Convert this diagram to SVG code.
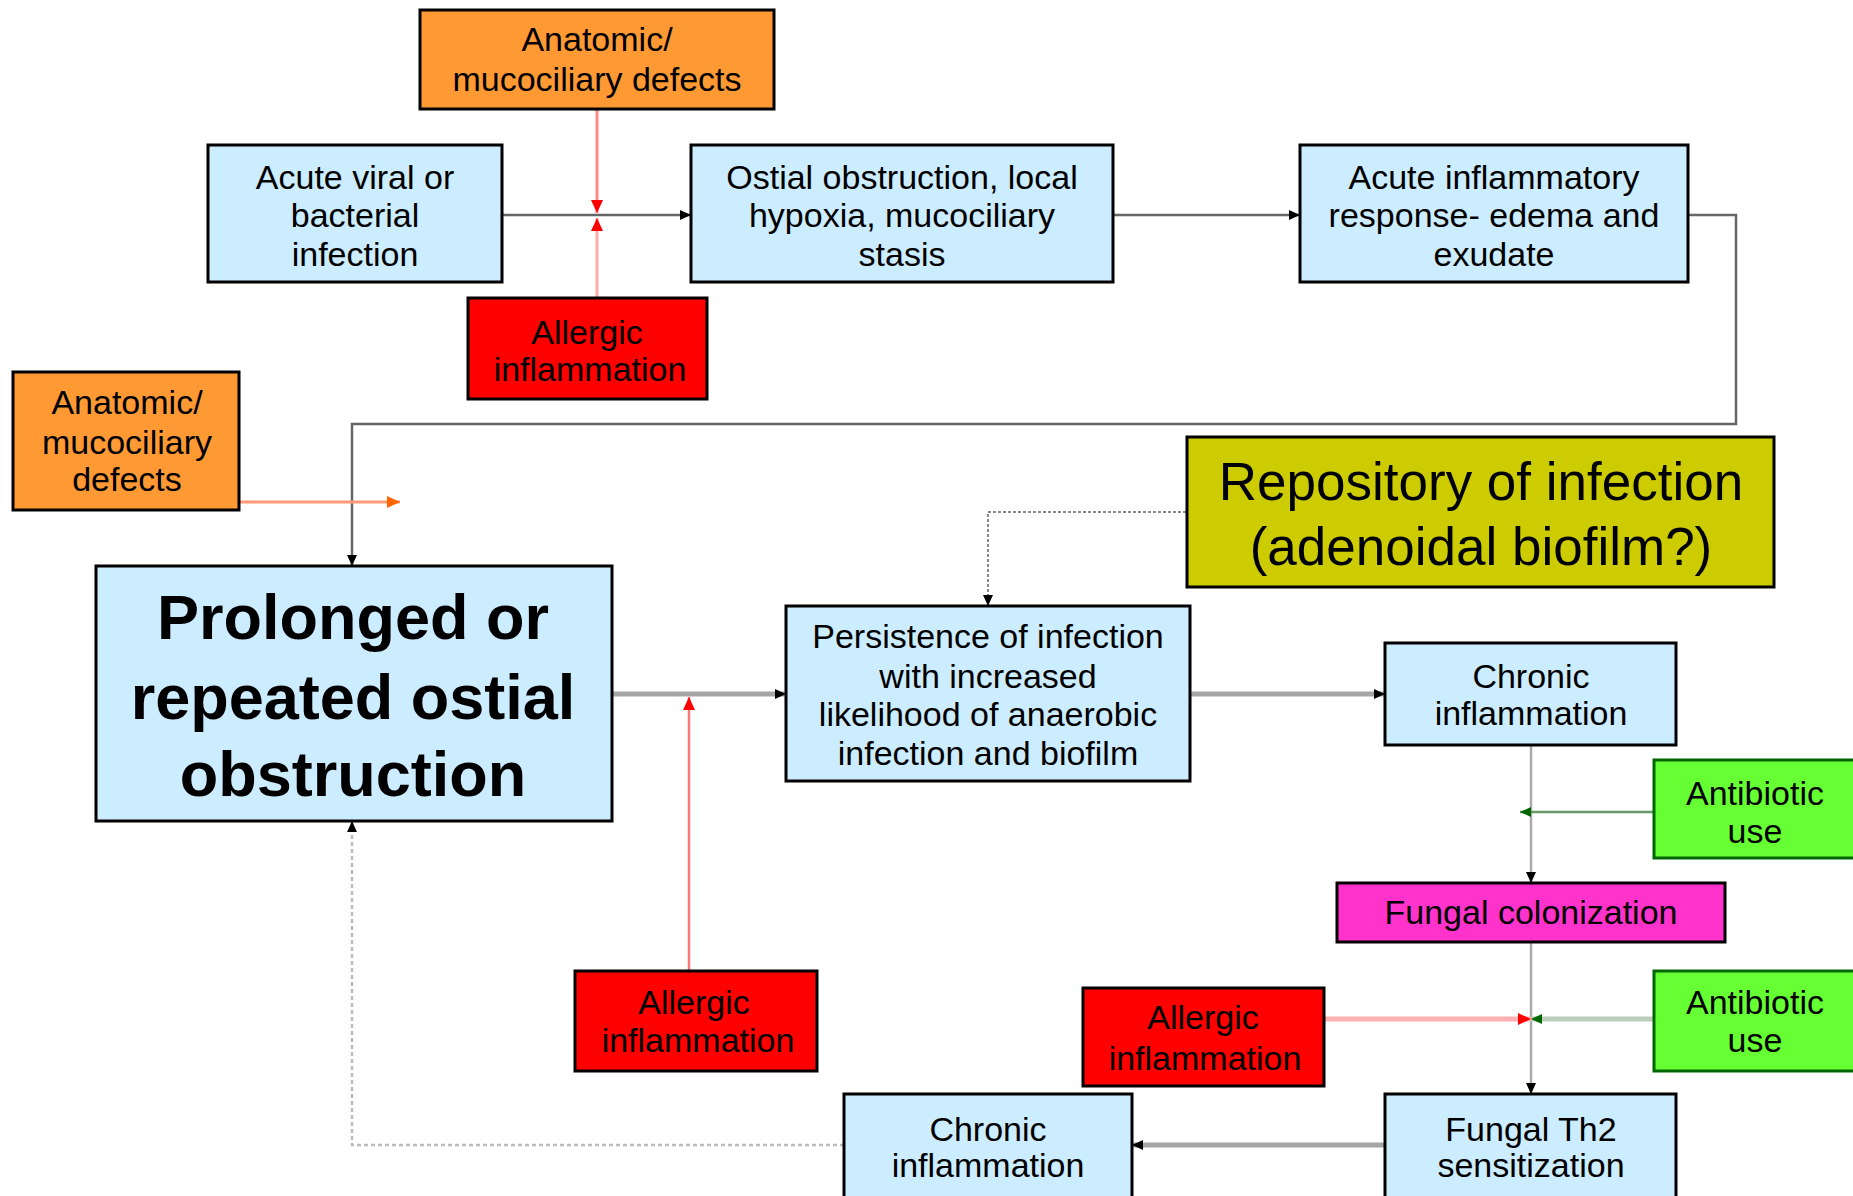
<svg xmlns="http://www.w3.org/2000/svg" width="1853" height="1196" viewBox="0 0 1853 1196">
<defs>
<style>
.t{font-family:"Liberation Sans",Arial,sans-serif;font-size:34px;fill:#000;text-anchor:middle}
.big{font-family:"Liberation Sans",Arial,sans-serif;font-size:63px;font-weight:bold;fill:#000;text-anchor:middle}
.rep{font-family:"Liberation Sans",Arial,sans-serif;font-size:53px;fill:#000;text-anchor:middle}
.blue{fill:#CCECFF;stroke:#000;stroke-width:3}
.orange{fill:#FF9933;stroke:#000;stroke-width:3}
.red{fill:#FF0000;stroke:#000;stroke-width:3}
.olive{fill:#CCCC00;stroke:#000;stroke-width:3}
.mag{fill:#FF33CC;stroke:#000;stroke-width:3}
.green{fill:#66FF33;stroke:#006600;stroke-width:3}
.c{fill:none}
</style>
<marker id="ak" markerWidth="12" markerHeight="12" refX="11" refY="6" orient="auto" markerUnits="userSpaceOnUse"><path d="M0,1 L11,6 L0,11 z" fill="#000"/></marker>
<marker id="ar" markerWidth="14" markerHeight="14" refX="13" refY="7" orient="auto" markerUnits="userSpaceOnUse"><path d="M0,1 L13,7 L0,13 z" fill="#FF0000"/></marker>
<marker id="ao" markerWidth="14" markerHeight="14" refX="13" refY="7" orient="auto" markerUnits="userSpaceOnUse"><path d="M0,1 L13,7 L0,13 z" fill="#FF6600"/></marker>
<marker id="ag" markerWidth="12" markerHeight="12" refX="11" refY="6" orient="auto" markerUnits="userSpaceOnUse"><path d="M0,1 L11,6 L0,11 z" fill="#006600"/></marker>
</defs>

<g id="connectors">
<path class="c" d="M502,215 H691" stroke="#666" stroke-width="2.5" marker-end="url(#ak)"/>
<path class="c" d="M597,109 V213" stroke="#FF8888" stroke-width="3" marker-end="url(#ar)"/>
<path class="c" d="M597,298 V218" stroke="#FFAAAA" stroke-width="3" marker-end="url(#ar)"/>
<path class="c" d="M1113,215 H1300" stroke="#666" stroke-width="2.5" marker-end="url(#ak)"/>
<path class="c" d="M1688,215 H1736 V424 H352 V566" stroke="#666" stroke-width="2.5" marker-end="url(#ak)"/>
<path class="c" d="M239,502 H400" stroke="#FF9977" stroke-width="3" marker-end="url(#ao)"/>
<path class="c" d="M612,694 H786" stroke="#A6A6A6" stroke-width="5" marker-end="url(#ak)"/>
<path class="c" d="M689,971 V697" stroke="#FF7777" stroke-width="2.5" marker-end="url(#ar)"/>
<path class="c" d="M1186,512 H988 V606" stroke="#888" stroke-width="2" stroke-dasharray="3,2" marker-end="url(#ak)"/>
<path class="c" d="M1190,694 H1385" stroke="#A6A6A6" stroke-width="5" marker-end="url(#ak)"/>
<path class="c" d="M1531,745 V883" stroke="#AAAAAA" stroke-width="2.5" marker-end="url(#ak)"/>
<path class="c" d="M1653,812 H1520" stroke="#669966" stroke-width="2.5" marker-end="url(#ag)"/>
<path class="c" d="M1531,942 V1094" stroke="#AAAAAA" stroke-width="2.5" marker-end="url(#ak)"/>
<path class="c" d="M1324,1019 H1531" stroke="#FFB0B0" stroke-width="5" marker-end="url(#ar)"/>
<path class="c" d="M1653,1019 H1531" stroke="#BBCCBB" stroke-width="5" marker-end="url(#ag)"/>
<path class="c" d="M1385,1145 H1132" stroke="#A6A6A6" stroke-width="5" marker-end="url(#ak)"/>
<path class="c" d="M844,1145 H352 V821" stroke="#BBBBBB" stroke-width="2.5" stroke-dasharray="4,3" marker-end="url(#ak)"/>
</g>

<g id="n-anatomic-top"><rect class="orange" x="420" y="10" width="354" height="99"/><text class="t" x="597" y="51">Anatomic/</text><text class="t" x="597" y="91">mucociliary defects</text></g>
<g id="n-acute-viral"><rect class="blue" x="208" y="145" width="294" height="137"/><text class="t" x="355" y="189">Acute viral or</text><text class="t" x="355" y="227">bacterial</text><text class="t" x="355" y="266">infection</text></g>
<g id="n-ostial"><rect class="blue" x="691" y="145" width="422" height="137"/><text class="t" x="902" y="189">Ostial obstruction, local</text><text class="t" x="902" y="227">hypoxia, mucociliary</text><text class="t" x="902" y="266">stasis</text></g>
<g id="n-acute-inflam"><rect class="blue" x="1300" y="145" width="388" height="137"/><text class="t" x="1494" y="189">Acute inflammatory</text><text class="t" x="1494" y="227">response- edema and</text><text class="t" x="1494" y="266">exudate</text></g>
<g id="n-allergic-top"><rect class="red" x="468" y="298" width="239" height="101"/><text class="t" x="587" y="344">Allergic</text><text class="t" x="590" y="381">inflammation</text></g>
<g id="n-anatomic-left"><rect class="orange" x="13" y="372" width="226" height="138"/><text class="t" x="127" y="414">Anatomic/</text><text class="t" x="127" y="454">mucociliary</text><text class="t" x="127" y="491">defects</text></g>
<g id="n-prolonged"><rect class="blue" x="96" y="566" width="516" height="255"/><text class="big" x="353" y="639">Prolonged or</text><text class="big" x="353" y="719">repeated ostial</text><text class="big" x="353" y="796">obstruction</text></g>
<g id="n-repository"><rect class="olive" x="1187" y="437" width="587" height="150"/><text class="rep" x="1481" y="500">Repository of infection</text><text class="rep" x="1481" y="565">(adenoidal biofilm?)</text></g>
<g id="n-persistence"><rect class="blue" x="786" y="606" width="404" height="175"/><text class="t" x="988" y="648">Persistence of infection</text><text class="t" x="988" y="688">with increased</text><text class="t" x="988" y="726">likelihood of anaerobic</text><text class="t" x="988" y="765">infection and biofilm</text></g>
<g id="n-chronic-top"><rect class="blue" x="1385" y="643" width="291" height="102"/><text class="t" x="1531" y="688">Chronic</text><text class="t" x="1531" y="725">inflammation</text></g>
<g id="n-antibiotic-1"><rect class="green" x="1654" y="760" width="202" height="98"/><text class="t" x="1755" y="805">Antibiotic</text><text class="t" x="1755" y="843">use</text></g>
<g id="n-fungal-col"><rect class="mag" x="1337" y="883" width="388" height="59"/><text class="t" x="1531" y="924">Fungal colonization</text></g>
<g id="n-antibiotic-2"><rect class="green" x="1654" y="971" width="202" height="100"/><text class="t" x="1755" y="1014">Antibiotic</text><text class="t" x="1755" y="1052">use</text></g>
<g id="n-allergic-br"><rect class="red" x="1083" y="988" width="241" height="98"/><text class="t" x="1203" y="1029">Allergic</text><text class="t" x="1205" y="1070">inflammation</text></g>
<g id="n-allergic-bl"><rect class="red" x="575" y="971" width="242" height="100"/><text class="t" x="694" y="1014">Allergic</text><text class="t" x="698" y="1052">inflammation</text></g>
<g id="n-chronic-bottom"><rect class="blue" x="844" y="1094" width="288" height="110"/><text class="t" x="988" y="1141">Chronic</text><text class="t" x="988" y="1177">inflammation</text></g>
<g id="n-fungal-th2"><rect class="blue" x="1385" y="1094" width="291" height="110"/><text class="t" x="1531" y="1141">Fungal Th2</text><text class="t" x="1531" y="1177">sensitization</text></g>
</svg>
